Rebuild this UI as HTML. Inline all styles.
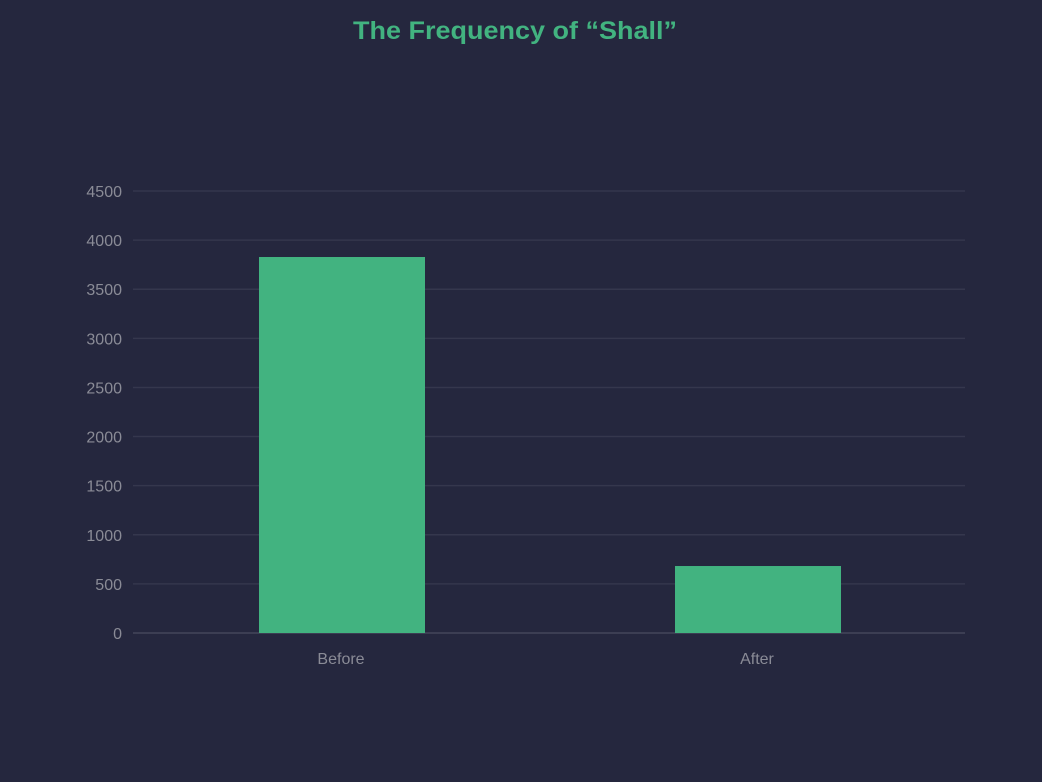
<!DOCTYPE html>
<html><head><meta charset="utf-8">
<style>
html,body{margin:0;padding:0;background:#25273e;}
svg{display:block;font-family:"Liberation Sans",sans-serif;}
</style></head>
<body>
<svg id="chart" width="1042" height="782">
<rect width="1042" height="782" fill="#25273e"/>
<text x="515" y="39" text-anchor="middle" font-size="25" font-weight="bold" fill="#42b380" textLength="324" lengthAdjust="spacingAndGlyphs">The Frequency of  “Shall”</text>
<g id="grid"></g><g id="bars"></g><g id="labels"></g>
</svg>
<script>
const categories = ["Before", "After"];
const values = [3828, 682];
const yTicks = [0, 500, 1000, 1500, 2000, 2500, 3000, 3500, 4000, 4500];
const NS = "http://www.w3.org/2000/svg";
const x0 = 133, x1 = 965, yBase = 633, yTop = 191, yMax = 4500;
const y = v => yBase - (v / yMax) * (yBase - yTop);
const band = (x1 - x0) / categories.length;
const xc = i => x0 + band * (i + 0.5);
const grid = document.getElementById('grid'), bars = document.getElementById('bars'), labels = document.getElementById('labels');
yTicks.forEach(t => {
  const l = document.createElementNS(NS, 'line');
  l.setAttribute('x1', x0); l.setAttribute('x2', x1);
  l.setAttribute('y1', y(t)); l.setAttribute('y2', y(t));
  l.setAttribute('stroke', t === 0 ? '#44465a' : '#35374d'); l.setAttribute('stroke-width', 1.5);
  
  
  grid.appendChild(l);
  const tx = document.createElementNS(NS, 'text');
  tx.setAttribute('x', 122); tx.setAttribute('y', y(t) + 6);
  tx.setAttribute('text-anchor', 'end'); tx.setAttribute('font-size', 16); tx.setAttribute('fill', '#8a8b96');
  tx.textContent = t;
  
  
  labels.appendChild(tx);
});
categories.forEach((c, i) => {
  const w = 166;
  const r = document.createElementNS(NS, 'rect');
  r.setAttribute('x', xc(i) - w / 2 + 1); r.setAttribute('width', w);
  r.setAttribute('y', y(values[i])); r.setAttribute('height', yBase - y(values[i]));
  r.setAttribute('fill', '#42b380');
  
  
  bars.appendChild(r);
  const tx = document.createElementNS(NS, 'text');
  tx.setAttribute('x', xc(i)); tx.setAttribute('y', 664);
  tx.setAttribute('text-anchor', 'middle'); tx.setAttribute('font-size', 16); tx.setAttribute('fill', '#8a8b96');
  tx.textContent = c;
  
  
  labels.appendChild(tx);
});
</script>
</body></html>
